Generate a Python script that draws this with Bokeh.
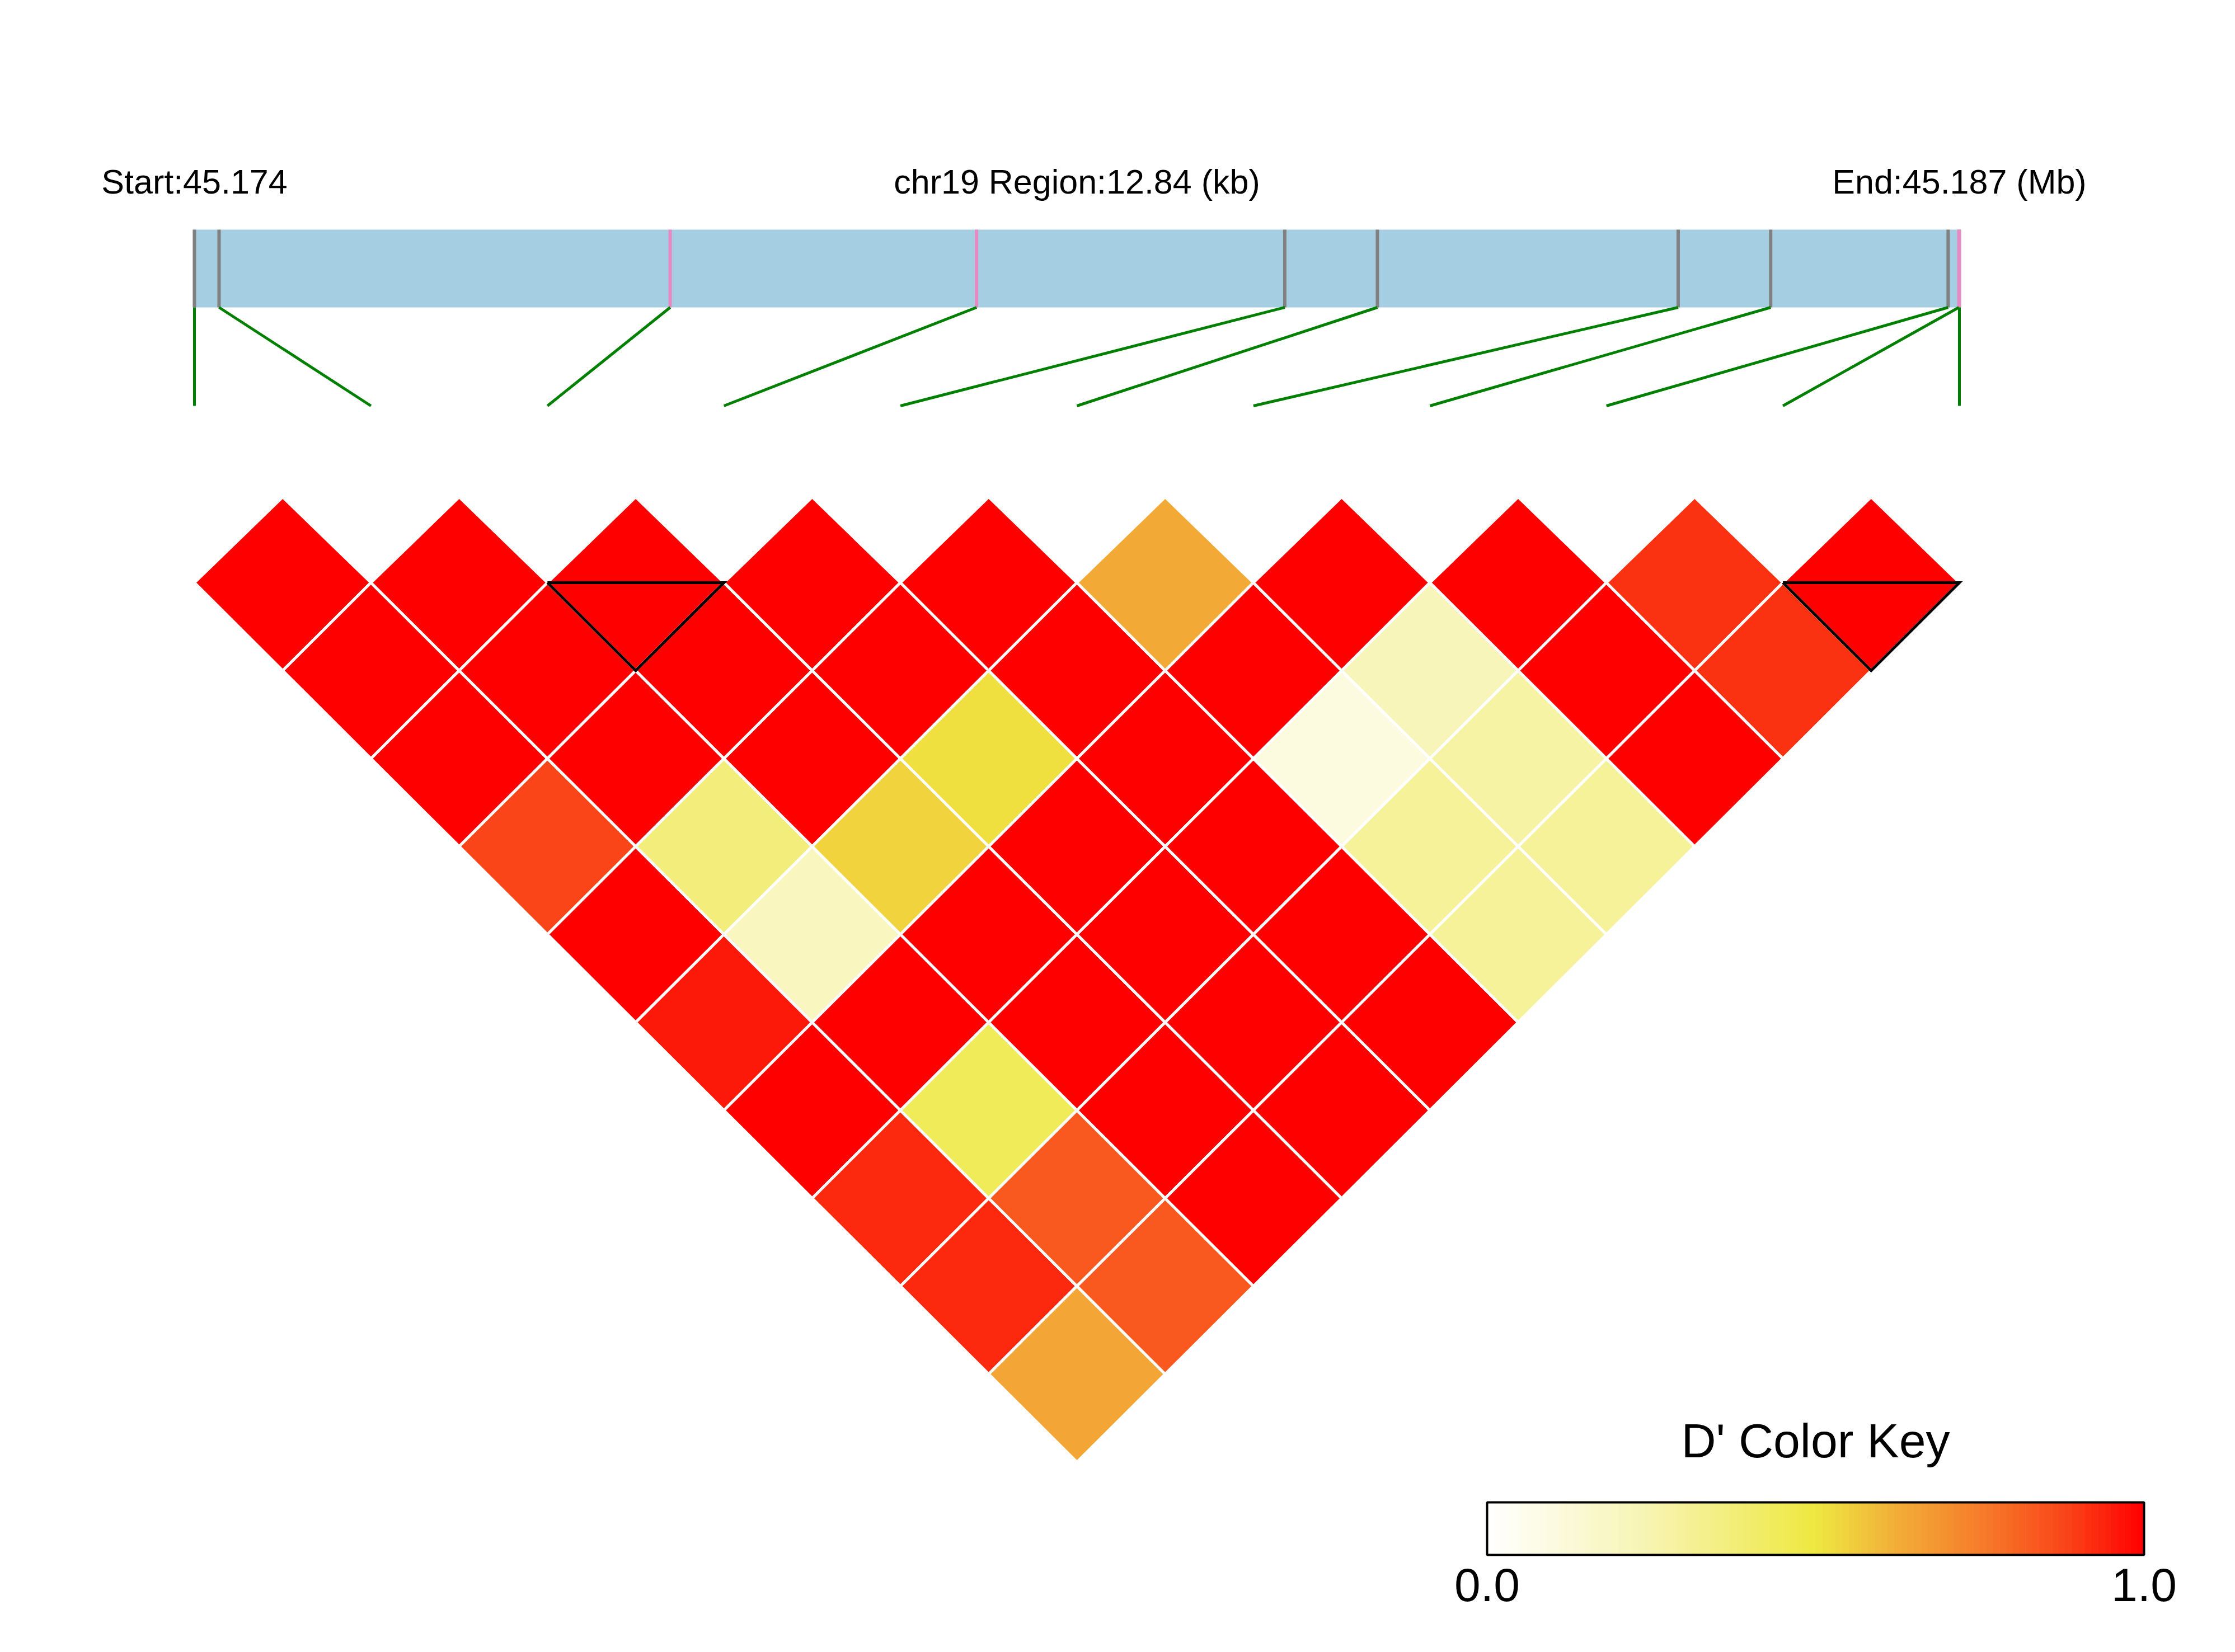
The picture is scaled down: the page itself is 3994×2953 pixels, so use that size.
import numpy as np
from bokeh.plotting import figure
from bokeh.models import ColumnDataSource, Range1d, LinearColorMapper
from bokeh.transform import transform
from bokeh.core.properties import value
from bokeh.embed import file_html
from bokeh.resources import INLINE

# ---------------- data ----------------
chrom = "chr19"
snp_pos = [45174300, 45174479, 45177761, 45179990, 45182232, 45182906,
           45185094, 45185767, 45187058, 45187136, 45187140]
blocks = [(2, 3), (9, 10)]          # LD blocks (first SNP index, last SNP index)
# D' upper triangle, row i holds D'(i, j) for j = i+1 .. n-1
dprime = [
    [1.0, 1.0, 1.0, 0.882, 1.0, 0.955, 1.0, 0.928, 0.928, 0.646],
    [1.0, 1.0, 1.0, 0.37, 0.20, 1.0, 0.446, 0.833, 0.833],
    [1.0, 1.0, 1.0, 0.546, 1.0, 1.0, 1.0, 1.0],
    [1.0, 1.0, 0.517, 1.0, 1.0, 1.0, 1.0],
    [1.0, 1.0, 1.0, 1.0, 1.0, 1.0],
    [0.636, 1.0, 0.098, 0.30, 0.30],
    [1.0, 0.22, 0.275, 0.30],
    [1.0, 1.0, 1.0],
    [0.913, 0.913],
    [1.0],
]
key_title = "D' Color Key"
key_ticks = [0.0, 1.0]

# ---------------- colour scale ----------------
stops = [(0.0, (255, 255, 255)), (0.25, (247, 244, 176)), (0.5, (238, 232, 64)),
         (0.62, (242, 175, 56)), (0.75, (246, 125, 42)), (0.88, (250, 70, 25)),
         (1.0, (255, 0, 0))]
tt = np.linspace(0, 1, 256)
sp = [s[0] for s in stops]
chan = [np.interp(tt, sp, [s[1][c] for s in stops]) for c in range(3)]
palette = ["#%02x%02x%02x" % (int(round(a)), int(round(b)), int(round(c)))
           for a, b, c in zip(*chan)]
mapper = LinearColorMapper(palette=palette, low=0.0, high=1.0)

# ---------------- layout constants (page pixels) ----------------
W, H_PAGE = 3978, 2937
p = figure(width=W, height=H_PAGE, x_range=Range1d(0, W), y_range=Range1d(H_PAGE, 0),
           output_backend="svg", toolbar_location=None, min_border=0,
           outline_line_color=None, background_fill_color="white")
p.axis.visible = False
p.grid.visible = False

BX0, BX1 = 347.0, 3501.0
BAR_TOP, BAR_BOT = 410.0, 549.0
LINK_BOT = 725.0
Y0, ROWH, HTOP = 1041.0, 157.2, 153.0
FONT = value("Liberation Sans")

start, end = snp_pos[0], snp_pos[-1]
n = len(snp_pos)

def bar_x(pos):
    return BX0 + (pos - start) / (end - start) * (BX1 - BX0)

step = (BX1 - BX0) / (n - 1)
hw = step / 2.0
sx = [BX0 + i * step for i in range(n)]

# ---------------- header texts ----------------
p.text(x=[BX0, (BX0 + BX1) / 2, BX1], y=[324, 324, 324],
       text=["Start:%.3f" % (start / 1e6),
             "%s Region:%.2f (kb)" % (chrom, (end - start) / 1000.0),
             "End:%.3f (Mb)" % (end / 1e6)],
       text_font=FONT, text_font_size="61px", text_align="center",
       text_baseline="alphabetic", text_color="black")

# ---------------- region bar ----------------
p.quad(left=[BX0 - 3], right=[BX1 + 3], top=[BAR_TOP], bottom=[BAR_BOT],
       fill_color="#A6CEE3", line_color=None)

in_block = set()
for a, b in blocks:
    in_block.update(range(a, b + 1))
bx = [bar_x(v) for v in snp_pos]
p.segment(x0=bx, y0=[BAR_TOP] * n, x1=bx, y1=[BAR_BOT] * n,
          line_color=["#E78AC3" if i in in_block else "#808080" for i in range(n)],
          line_width=6)
p.segment(x0=bx, y0=[BAR_BOT] * n, x1=sx, y1=[LINK_BOT] * n,
          line_color="#008000", line_width=5)

# ---------------- LD heatmap ----------------
xs, ys, ds = [], [], []
for i in range(n - 1):
    for k, d in enumerate(dprime[i]):
        j = i + 1 + k
        cx = (sx[i] + sx[j]) / 2.0
        cy = Y0 + (j - i - 1) * ROWH
        top = HTOP if j - i == 1 else ROWH
        xs.append([cx, cx + hw, cx, cx - hw])
        ys.append([cy - top, cy, cy + ROWH, cy])
        ds.append(d)
src = ColumnDataSource(dict(xs=xs, ys=ys, d=ds))
p.patches(xs="xs", ys="ys", source=src, fill_color=transform("d", mapper),
          line_color="white", line_width=5)

txs, tys = [], []
for a, b in blocks:
    txs.append([sx[a], sx[b], (sx[a] + sx[b]) / 2.0, sx[a]])
    tys.append([Y0, Y0, Y0 + (b - a) * ROWH, Y0])
p.multi_line(xs=txs, ys=tys, line_color="black", line_width=5, line_join="miter")

# ---------------- colour key ----------------
KX0, KX1, KY0, KY1 = 2657.0, 3831.0, 2685.0, 2779.0
nk = 100
kv = np.linspace(0, 1, nk + 1)
kmid = (kv[:-1] + kv[1:]) / 2
ksrc = ColumnDataSource(dict(left=KX0 + kv[:-1] * (KX1 - KX0),
                             right=KX0 + kv[1:] * (KX1 - KX0) + 0.6,
                             v=kmid))
p.quad(left="left", right="right", top=KY0, bottom=KY1, source=ksrc,
       fill_color=transform("v", mapper), line_color=None)
p.quad(left=[KX0], right=[KX1], top=[KY0], bottom=[KY1], fill_color=None,
       line_color="black", line_width=4)
p.text(x=[(KX0 + KX1) / 2], y=[2574], text=[key_title], text_font=FONT,
       text_font_size="86px", text_align="center", text_baseline="alphabetic")
p.text(x=[KX0 + t * (KX1 - KX0) for t in key_ticks], y=[2832] * len(key_ticks),
       text=["%.1f" % t for t in key_ticks], text_font=FONT, text_font_size="84px",
       text_align="center", text_baseline="alphabetic")

open("out.html", "w").write(file_html(p, INLINE))
